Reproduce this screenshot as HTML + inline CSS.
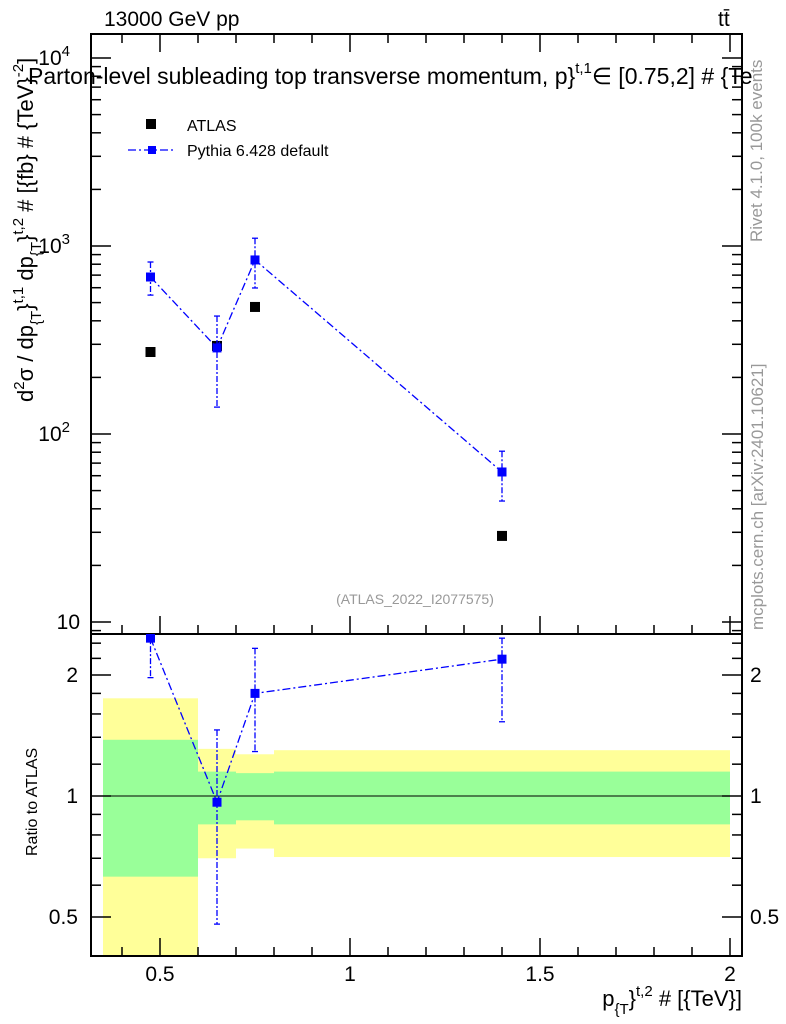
<!DOCTYPE html>
<html><head><meta charset="utf-8"><style>
body{margin:0;background:#fff;}
svg{display:block;font-family:"Liberation Sans",sans-serif;}
</style></head><body>
<svg id="c" width="786" height="1024" xmlns="http://www.w3.org/2000/svg"></svg>
<script>
const xCenters=[0.475,0.65,0.75,1.4];
const atlasVals=[273,294,474,28.7];
const pythiaVals=[684,287,843,62.8];
const pythiaUp=[822,424,1100,81];
const pythiaDn=[548,139,598,44];
const binEdges=[0.35,0.6,0.7,0.8,2.0];
const yellowUp=[1.75,1.31,1.27,1.30];
const yellowDn=[0.35,0.70,0.74,0.705];
const greenUp=[1.38,1.15,1.14,1.15];
const greenDn=[0.63,0.85,0.87,0.85];
const ratioVals=[2.47,0.965,1.80,2.19];
const ratioUp=[2.9,1.46,2.33,2.47];
const ratioDn=[1.97,0.48,1.29,1.53];
const xTicks=[0.5,1,1.5,2];
const xTickLabels=["0.5","1","1.5","2"];
const rTicks=[0.5,1,2];
const rTickLabels=["0.5","1","2"];

const L=91,R=742,T=34,MB=634,RB=956;
const NS="http://www.w3.org/2000/svg";
const svg=document.getElementById('c');
const X=v=>160+(v-0.5)*380;
const Y=v=>246-(Math.log10(v)-3)*188;
const YR=v=>796-Math.log2(v)*121;
function el(tag,attrs,parent){const e=document.createElementNS(NS,tag);for(const k in attrs)e.setAttribute(k,attrs[k]);(parent||svg).appendChild(e);return e;}
function txt(s,attrs,parent){const e=el('text',attrs,parent);e.textContent=s;return e;}

const defs=el('defs',{});
const cp1=el('clipPath',{id:'cm'},defs);el('rect',{x:L,y:T,width:R-L,height:MB-T},cp1);
const cp2=el('clipPath',{id:'cr'},defs);el('rect',{x:L,y:MB,width:R-L,height:RB-MB},cp2);

const gb=el('g',{'clip-path':'url(#cr)'});


for(let i=0;i<4;i++){
  const x0=X(binEdges[i]),x1=X(binEdges[i+1]);
  const y=el('rect',{x:x0,y:YR(yellowUp[i]),width:x1-x0,height:YR(yellowDn[i])-YR(yellowUp[i]),fill:'#ffff99'},gb);
  
  
  const g=el('rect',{x:x0,y:YR(greenUp[i]),width:x1-x0,height:YR(greenDn[i])-YR(greenUp[i]),fill:'#99ff99'},gb);
  
  
}
el('line',{x1:L,x2:R,y1:YR(1),y2:YR(1),stroke:'#000','stroke-width':1});

el('rect',{x:L,y:T,width:R-L,height:MB-T,fill:'none',stroke:'#000','stroke-width':2});
el('rect',{x:L,y:MB,width:R-L,height:RB-MB,fill:'none',stroke:'#000','stroke-width':2});

for(let v=0.4;v<=2.01;v+=0.1){
  const vv=Math.round(v*10)/10,x=X(vv),maj=Math.abs(vv*2-Math.round(vv*2))<1e-6;
  const len=maj?18:9;
  el('line',{x1:x,x2:x,y1:T,y2:T+len,stroke:'#000','stroke-width':1.5});
  el('line',{x1:x,x2:x,y1:MB,y2:MB-len,stroke:'#000','stroke-width':1.5});
  el('line',{x1:x,x2:x,y1:RB,y2:RB-len,stroke:'#000','stroke-width':1.5});
}
xTicks.forEach((v,i)=>{const t=txt(xTickLabels[i],{x:X(v),y:981,'font-size':21,'text-anchor':'middle'});

});

for(let d=0;d<=4;d++){for(let m=1;m<=9;m++){
  const v=m*Math.pow(10,d);const y=Y(v);if(y<T||y>MB)continue;
  const len=m==1?20:10;
  el('line',{x1:L,x2:L+len,y1:y,y2:y,stroke:'#000','stroke-width':1.5});
  el('line',{x1:R,x2:R-len,y1:y,y2:y,stroke:'#000','stroke-width':1.5});
}}
[[10,"10",""],[100,"10","2"],[1000,"10","3"],[10000,"10","4"]].forEach(a=>{
  const t=txt('',{x:a[2]?70:80,y:Y(a[0])+7,'font-size':21,'text-anchor':'end'});
  
  
  const s1=el('tspan',{},t);s1.textContent=a[1];
  if(a[2]){const s2=el('tspan',{dy:-9,'font-size':15},t);s2.textContent=a[2];}
});

[0.4,0.5,0.6,0.7,0.8,0.9,1,1.2,1.4,1.6,1.8,2,2.2,2.4].forEach(v=>{
  const y=YR(v);if(y<MB||y>RB)return;const maj=rTicks.includes(v);const len=maj?20:10;
  el('line',{x1:L,x2:L+len,y1:y,y2:y,stroke:'#000','stroke-width':1.5});
  el('line',{x1:R,x2:R-len,y1:y,y2:y,stroke:'#000','stroke-width':1.5});
});
rTicks.forEach((v,i)=>{
  const a=txt(rTickLabels[i],{x:78,y:YR(v)+7,'font-size':21,'text-anchor':'end'});
  
  
  const b=txt(rTickLabels[i],{x:750,y:YR(v)+7,'font-size':21});
  
  
});

const gm=el('g',{'clip-path':'url(#cm)'});
atlasVals.forEach((v,i)=>{const r=el('rect',{x:X(xCenters[i])-5,y:Y(v)-5,width:10,height:10,fill:'#000'},gm);

});
el('polyline',{points:xCenters.map((x,i)=>X(x)+','+Y(pythiaVals[i])).join(' '),fill:'none',stroke:'#0000ff','stroke-width':1.3,'stroke-dasharray':'8,3,2,3'},gm);
pythiaVals.forEach((v,i)=>{const x=X(xCenters[i]);
  el('line',{x1:x,x2:x,y1:Y(pythiaUp[i]),y2:Y(pythiaDn[i]),stroke:'#0000ff','stroke-width':1.3,'stroke-dasharray':'6,2,2,2'},gm);
  el('line',{x1:x-3,x2:x+3,y1:Y(pythiaUp[i]),y2:Y(pythiaUp[i]),stroke:'#0000ff','stroke-width':1.3},gm);
  el('line',{x1:x-3,x2:x+3,y1:Y(pythiaDn[i]),y2:Y(pythiaDn[i]),stroke:'#0000ff','stroke-width':1.3},gm);
  const r=el('rect',{x:x-4.5,y:Y(v)-4.5,width:9,height:9,fill:'#0000ff'},gm);
  
  
});

const gr=el('g',{'clip-path':'url(#cr)'});
el('polyline',{points:xCenters.map((x,i)=>X(x)+','+YR(ratioVals[i])).join(' '),fill:'none',stroke:'#0000ff','stroke-width':1.3,'stroke-dasharray':'8,3,2,3'},gr);
ratioVals.forEach((v,i)=>{const x=X(xCenters[i]);
  el('line',{x1:x,x2:x,y1:YR(ratioUp[i]),y2:YR(ratioDn[i]),stroke:'#0000ff','stroke-width':1.3,'stroke-dasharray':'6,2,2,2'},gr);
  el('line',{x1:x-3,x2:x+3,y1:YR(ratioUp[i]),y2:YR(ratioUp[i]),stroke:'#0000ff','stroke-width':1.3},gr);
  el('line',{x1:x-3,x2:x+3,y1:YR(ratioDn[i]),y2:YR(ratioDn[i]),stroke:'#0000ff','stroke-width':1.3},gr);
  const r=el('rect',{x:x-4.5,y:YR(v)-4.5,width:9,height:9,fill:'#0000ff'},gr);
  
  
});
</script>
<svg width="786" height="1024" style="position:absolute;left:0;top:0" xmlns="http://www.w3.org/2000/svg">
<g font-family="Liberation Sans, sans-serif">
<text x="104" y="26" font-size="21">13000 GeV pp</text>
<text x="718" y="26" font-size="21">tt̄</text>
<text x="28" y="84" font-size="23">Parton-level subleading top transverse momentum, p}<tspan dy="-11" font-size="15">t,1</tspan><tspan dy="11">∈ [0.75,2] # {Te</tspan></text>
<rect x="146" y="119" width="10" height="10" fill="#000"/>
<text x="187" y="131" font-size="16">ATLAS</text>
<line x1="128" x2="175" y1="150" y2="150" stroke="#00f" stroke-width="1.3" stroke-dasharray="8,3,2,3"/>
<rect x="148" y="146" width="8" height="8" fill="#00f"/>
<text x="187" y="156" font-size="16">Pythia 6.428 default</text>
<text x="415" y="604" font-size="14" fill="#999" text-anchor="middle">(ATLAS_2022_I2077575)</text>
<text transform="translate(762,242) rotate(-90)" font-size="17" fill="#999">Rivet 4.1.0,  100k events</text>
<text transform="translate(763,630) rotate(-90)" font-size="17" fill="#999">mcplots.cern.ch [arXiv:2401.10621]</text>
<text transform="translate(33,402) rotate(-90)" font-size="22">d<tspan dy="-9" font-size="15">2</tspan><tspan dy="9">σ / dp</tspan><tspan dy="8" font-size="15">{T</tspan><tspan dy="-8">}</tspan><tspan dy="-10" font-size="15">t,1</tspan><tspan dy="10"> dp</tspan><tspan dy="8" font-size="15">{T</tspan><tspan dy="-8">}</tspan><tspan dy="-10" font-size="15">t,2</tspan><tspan dy="10"> # [{fb} # {TeV}</tspan><tspan dy="-10" font-size="15">-2</tspan><tspan dy="10">]</tspan></text>
<text transform="translate(37,856) rotate(-90)" font-size="16">Ratio to ATLAS</text>
<text x="742" y="1006" font-size="22" text-anchor="end">p<tspan dy="8" font-size="15">{T</tspan><tspan dy="-8">}</tspan><tspan dy="-10" font-size="15">t,2</tspan><tspan dy="10"> # [{TeV}]</tspan></text>
</g></svg>
</body></html>
